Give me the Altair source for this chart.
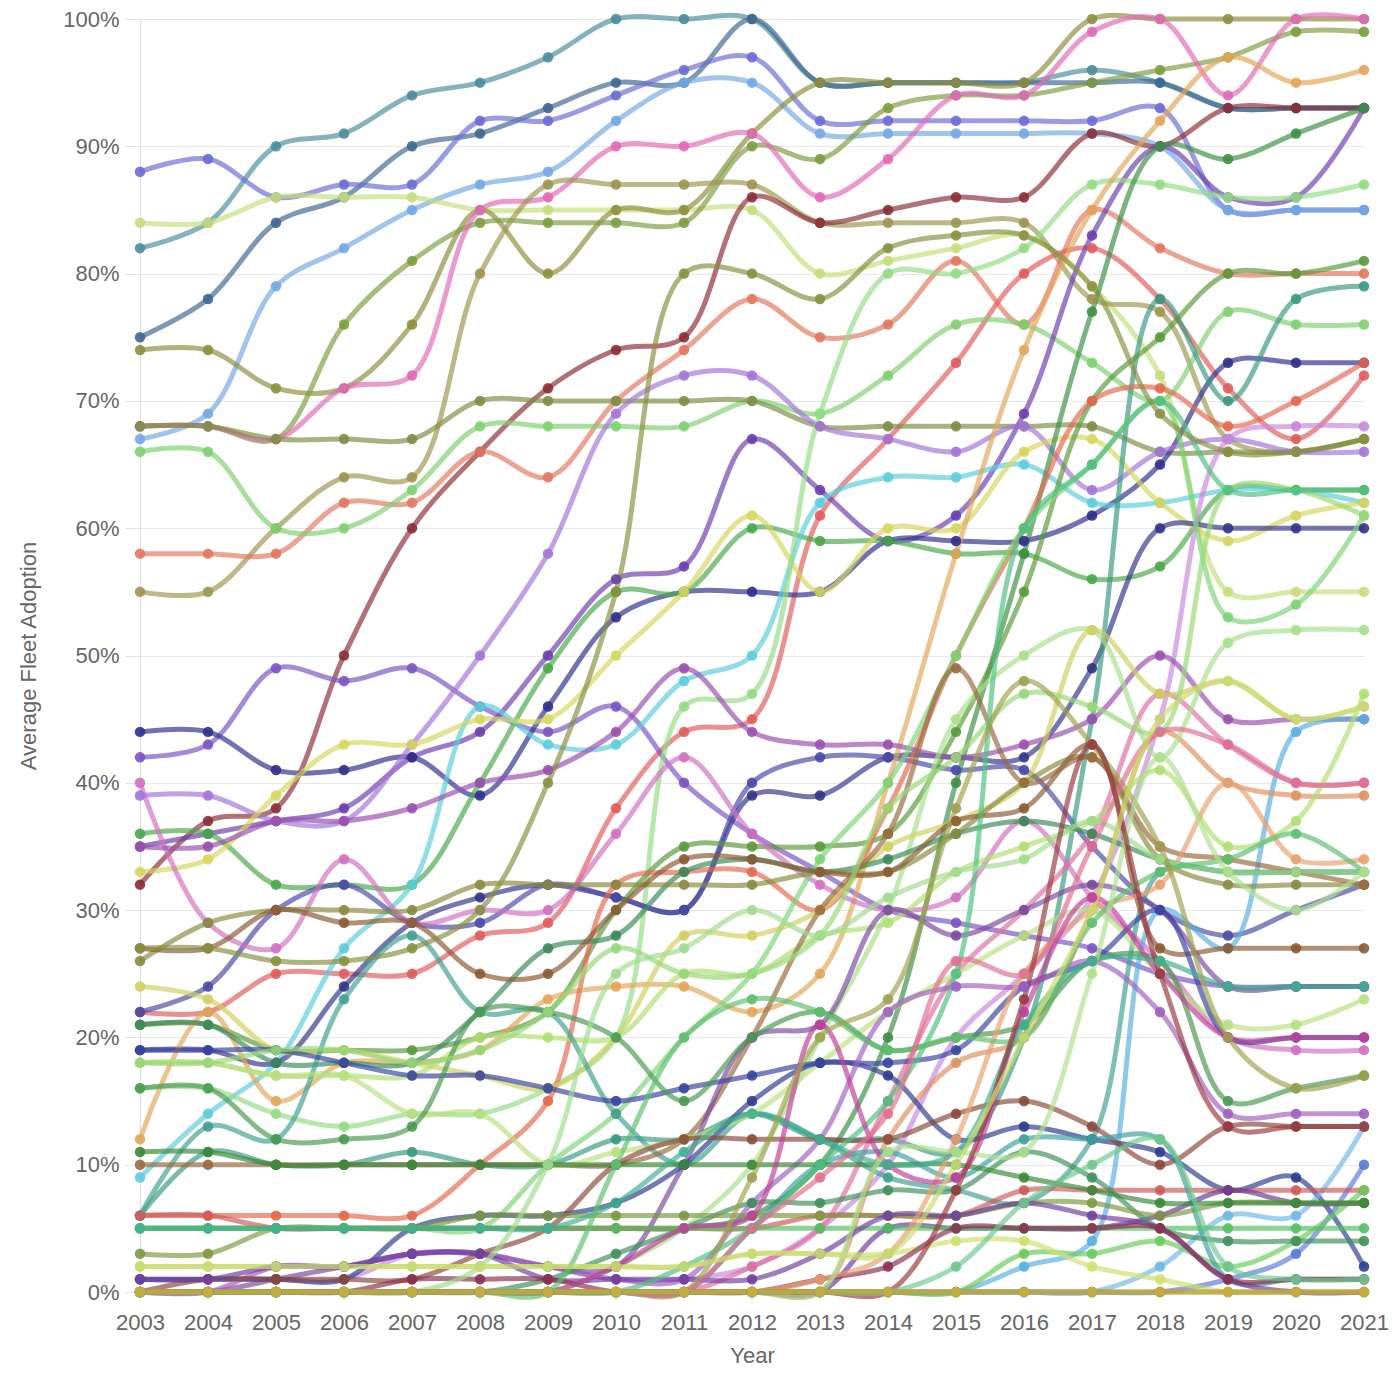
import altair as alt
import pandas as pd

years = list(range(2003, 2022))

s01 = [82,84,90,91,94,95,97,100,100,100,95,95,95,95,96,95,93,93,93]
s02 = [75,78,84,86,90,91,93,95,95,100,95,95,95,95,95,95,93,93,93]
s03 = [88,89,86,87,87,92,92,94,96,97,92,92,92,92,92,93,85,85,85]
s04 = [67,69,79,82,85,87,88,92,95,95,91,91,91,91,91,90,85,85,85]
s05 = [84,84,86,86,86,85,85,85,85,85,80,81,82,83,79,72,55,55,55]
s06 = [74,74,71,71,76,85,80,85,85,91,95,95,95,95,100,100,100,100,100]
s07 = [68,68,67,76,81,84,84,84,84,90,89,93,94,94,95,96,97,99,99]
s08 = [68,68,67,71,72,85,86,90,90,91,86,89,94,94,99,100,94,100,100]
s09 = [55,55,60,64,64,80,87,87,87,87,84,84,84,84,78,77,67,66,67]
s10 = [32,37,38,50,60,66,71,74,75,86,84,85,86,86,91,90,93,93,93]
s11 = [58,58,58,62,62,66,64,70,74,78,75,76,81,76,85,82,80,80,80]
s12 = [22,22,25,25,25,28,29,38,44,45,61,67,73,80,82,78,71,67,72]
s13 = [66,66,60,60,63,68,68,68,68,70,69,72,76,76,73,70,77,76,76]
s14 = [68,68,67,67,67,70,70,70,70,70,68,68,68,68,68,66,66,66,67]
s15 = [42,43,49,48,49,46,44,46,40,36,33,30,29,28,27,25,24,24,24]
s16 = [35,36,37,38,42,44,50,56,57,67,63,59,61,69,83,90,86,86,93]
s17 = [44,44,41,41,42,39,46,53,55,55,55,59,59,59,61,65,73,73,73]
s18 = [39,39,37,37,43,50,58,69,72,72,68,67,66,68,63,66,67,66,66]
s19 = [36,36,32,32,32,40,49,55,55,60,59,59,58,58,56,57,63,63,63]
s20 = [9,14,18,27,32,46,43,43,48,50,62,64,64,65,62,62,63,63,62]
s21 = [33,34,39,43,43,45,45,50,55,61,55,60,60,66,67,62,59,61,62]
s22 = [16,16,14,13,14,14,16,20,46,47,69,80,80,82,87,87,86,86,87]
s23 = [19,19,18,24,29,31,32,31,30,39,39,42,42,42,49,60,60,60,60]
s24 = [22,24,30,32,29,29,32,31,30,40,42,42,41,41,35,30,28,30,32]
s25 = [6,11,10,10,11,10,10,12,12,14,12,12,11,20,45,78,70,78,79]
s26 = [5,5,5,5,5,5,5,5,5,6,10,20,40,58,77,90,89,91,93]
s27 = [21,21,19,19,19,20,22,30,35,35,35,36,44,55,70,75,80,80,81]
s28 = [12,22,15,18,18,19,23,24,24,22,25,40,58,74,85,92,97,95,96]
s29 = [6,6,6,6,6,10,15,32,33,33,30,38,50,60,70,71,68,70,73]
s30 = [1,1,1,1,3,3,2,1,1,2,5,10,20,25,31,45,67,68,68]
s31 = [40,29,27,34,29,30,30,36,42,36,32,30,31,37,31,26,20,19,19]
s32 = [35,35,37,37,38,40,41,44,49,44,43,43,42,43,45,50,45,45,45]
s33 = [0,0,0,0,0,0,0,0,0,0,0,0,0,2,4,30,27,44,45]
s34 = [0,0,0,0,0,0,0,0,0,2,5,15,25,30,36,47,43,40,40]
s35 = [0,0,0,0,0,0,0,0,0,0,0,12,18,20,30,44,40,39,39]
s36 = [0,0,0,0,0,0,0,2,5,10,20,30,45,50,52,42,51,52,52]
s37 = [5,5,5,5,5,5,10,14,20,25,34,40,50,60,65,70,53,54,61]
s38 = [24,23,19,19,18,17,16,20,28,28,30,35,37,40,52,47,48,45,46]
s39 = [18,18,17,17,17,20,20,20,25,25,28,29,33,35,37,41,35,37,47]
s40 = [21,21,18,18,18,22,27,28,33,34,33,34,36,37,36,34,33,33,33]
s41 = [6,13,12,23,28,22,22,14,10,14,12,9,8,7,12,33,33,33,33]
s42 = [26,29,30,30,30,32,32,32,32,32,33,33,36,40,42,34,32,32,32]
s43 = [27,27,30,29,29,25,25,30,34,34,33,33,37,38,43,27,27,27,27]
s44 = [10,10,10,10,10,10,10,10,12,20,30,36,49,40,42,35,34,33,32]
s45 = [0,0,1,2,3,3,2,2,10,20,21,30,28,30,32,30,24,24,24]
s46 = [18,18,17,17,14,14,10,11,12,14,18,22,25,28,30,25,21,21,23]
s47 = [1,1,1,1,5,6,6,7,10,15,18,17,12,13,12,11,8,9,2]
s48 = [19,19,19,18,17,17,16,15,16,17,18,18,19,24,26,30,20,20,20]
s49 = [16,16,12,12,13,22,22,20,15,20,22,19,20,21,26,26,15,16,17]
s50 = [0,0,2,2,3,3,2,1,1,7,12,22,24,24,26,22,14,14,14]
s51 = [0,1,1,1,1,3,5,10,12,12,12,12,14,15,13,10,13,13,13]
s52 = [0,0,0,0,0,0,0,0,0,0,0,0,0,0,0,2,6,6,13]
s53 = [0,0,0,0,0,0,0,0,0,0,0,0,0,0,0,0,1,3,10]
s54 = [6,6,5,5,5,5,5,5,5,5,6,6,6,8,8,8,8,8,8]
s55 = [0,0,0,0,0,0,0,0,0,0,0,0,0,3,3,4,2,4,8]
s56 = [0,0,0,0,0,0,0,0,0,0,0,5,5,5,5,6,8,7,7]
s57 = [0,0,0,0,0,0,0,0,0,5,10,11,9,12,12,12,1,1,1]
s58 = [0,0,0,0,0,0,1,3,5,7,7,8,8,11,9,5,4,4,4]
s59 = [2,2,2,2,2,2,2,2,2,3,3,3,4,4,2,1,0,0,0]
s60 = [3,3,5,5,5,6,6,6,6,6,6,6,6,7,7,6,7,7,7]
s61 = [5,5,5,5,5,5,5,5,5,5,5,5,5,5,5,5,5,5,5]
s62 = [11,11,10,10,10,10,10,10,10,10,10,10,10,9,8,7,7,7,7]
s63 = [1,1,2,2,3,3,1,1,1,1,3,6,6,7,6,5,1,0,0]
s64 = [0,0,0,0,1,1,1,0,0,0,1,2,5,5,5,5,1,1,1]
s65 = [18,18,19,19,18,19,22,27,25,25,28,38,42,47,46,44,63,63,61]
s66 = [0,0,0,0,0,0,0,0,2,5,10,15,25,60,65,70,63,63,63]
s67 = [0,0,0,0,0,0,0,0,0,0,1,3,12,25,30,32,40,34,34]
s68 = [27,27,26,26,27,30,40,55,80,80,78,82,83,83,79,69,66,66,67]
s69 = [0,0,0,0,0,0,0,2,5,6,21,10,9,22,31,25,20,20,20]
s70 = [5,5,5,5,5,5,5,7,11,14,12,10,11,21,26,26,24,24,24]
s71 = [0,0,0,0,0,2,10,25,27,30,28,31,33,34,37,34,33,33,33]
s72 = [0,0,0,0,0,0,0,10,20,23,22,19,20,20,29,33,34,36,33]
s73 = [0,0,0,0,0,0,0,0,0,9,20,23,38,48,43,35,20,16,17]
s74 = [0,0,0,0,0,0,0,0,0,5,9,14,26,25,35,44,43,40,40]
s75 = [0,0,0,0,0,0,0,0,0,0,0,11,11,11,25,42,33,30,33]
s76 = [0,0,0,0,0,0,0,0,0,0,0,0,8,23,43,25,13,13,13]
s77 = [2,2,2,2,2,2,2,2,2,3,3,3,10,20,30,45,48,45,46]
s78 = [0,0,0,0,0,0,0,0,0,0,0,0,2,7,10,12,2,1,1]
s79 = [0,0,0,0,0,0,0,0,0,0,0,0,0,0,0,0,0,0,0]
s80 = [0,0,0,0,0,0,0,0,0,0,0,0,0,0,0,0,0,0,0]

series = [s01, s02, s03, s04, s05, s06, s07, s08, s09, s10,
          s11, s12, s13, s14, s15, s16, s17, s18, s19, s20,
          s21, s22, s23, s24, s25, s26, s27, s28, s29, s30,
          s31, s32, s33, s34, s35, s36, s37, s38, s39, s40,
          s41, s42, s43, s44, s45, s46, s47, s48, s49, s50,
          s51, s52, s53, s54, s55, s56, s57, s58, s59, s60,
          s61, s62, s63, s64, s65, s66, s67, s68, s69, s70,
          s71, s72, s73, s74, s75, s76, s77, s78, s79, s80]

palette = ["#4b8d9b", "#3e6791", "#6c6cd4", "#74a8e4", "#c6de7c", "#8e8e3e", "#7d9d40", "#e06ab6", "#9c9650", "#8b2d36",
           "#e2785f", "#e05c5c", "#80d070", "#7e8e46", "#7b54c4", "#6a3eb0", "#2f2f8e", "#a474d8", "#4aa84a", "#5ccddd",
           "#d6d65e", "#94dc84", "#34348a", "#4a4aa8", "#3a9a80", "#3d8f46", "#5a9a3a", "#e2a65a", "#e3684e", "#c888dc",
           "#d070c0", "#9a50b0", "#58b0e0", "#e070a0", "#e09060", "#a8e08c", "#7cd474", "#d0d060", "#b0e070", "#3a8a5a",
           "#40a090", "#8a8a40", "#8c5a34", "#9a6a40", "#7a4aa0", "#b8e080", "#2c3c90", "#3a44a0", "#4a9a50", "#a060c0",
           "#8a4a3a", "#70b8e8", "#5a7ad8", "#d05a5a", "#6acc5a", "#6a3a9a", "#40a0a0", "#40905a", "#d0e070", "#7e9a44",
           "#52c060", "#3a8a3a", "#7040a0", "#8a3050", "#98d878", "#50c080", "#e8a070", "#889040", "#c0409a", "#40b090",
           "#a0dc90", "#60c070", "#a0a050", "#e07090", "#b0e090", "#9a3a40", "#c8dc70", "#70c890", "#a09040", "#c8b040"]

names = [f"S{i+1:02d}" for i in range(len(series))]
rows = []
for name, vals in zip(names, series):
    for yr, v in zip(years, vals):
        rows.append({"series": name, "year": yr, "value": v / 100})
df = pd.DataFrame(rows)

color = alt.Color("series:N", scale=alt.Scale(domain=names, range=palette), legend=None)
x = alt.X("year:Q", title="Year",
          scale=alt.Scale(domain=[2003, 2021], nice=False, zero=False),
          axis=alt.Axis(values=years, format="d", grid=False, ticks=False,
                        labelOverlap=False, labelFlush=False,
                        labelPadding=20, titlePadding=12, domainColor="#dddddd"))
y = alt.Y("value:Q", title="Average Fleet Adoption",
          scale=alt.Scale(domain=[0, 1], nice=False),
          axis=alt.Axis(format=".0%", values=[i / 10 for i in range(11)],
                        tickSize=15, tickColor="#e3e3e3", labelPadding=6,
                        labelFlush=False, labelOverlap=False,
                        titlePadding=22, gridColor="#e8e8e8", domainColor="#dddddd"))

base = alt.Chart(df)
lines = base.mark_line(interpolate="catmull-rom", strokeWidth=5, opacity=0.68).encode(
    x=x, y=y, color=color, detail="series:N")
points = base.mark_circle(size=110, opacity=0.9).encode(x=x, y=y, color=color)

chart = (lines + points).properties(
    width=1224, height=1273,
    autosize=alt.AutoSizeParams(type="none"),
    padding={"left": 132, "top": 11, "right": 24, "bottom": 78},
).configure_axis(
    labelFont="Liberation Sans", titleFont="Liberation Sans",
    labelFontSize=22, titleFontSize=22, labelColor="#666666", titleColor="#666666",
    titleFontWeight="normal",
).configure_view(stroke=None)

chart.save("out.html", embed_options={"renderer": "svg", "actions": False})
